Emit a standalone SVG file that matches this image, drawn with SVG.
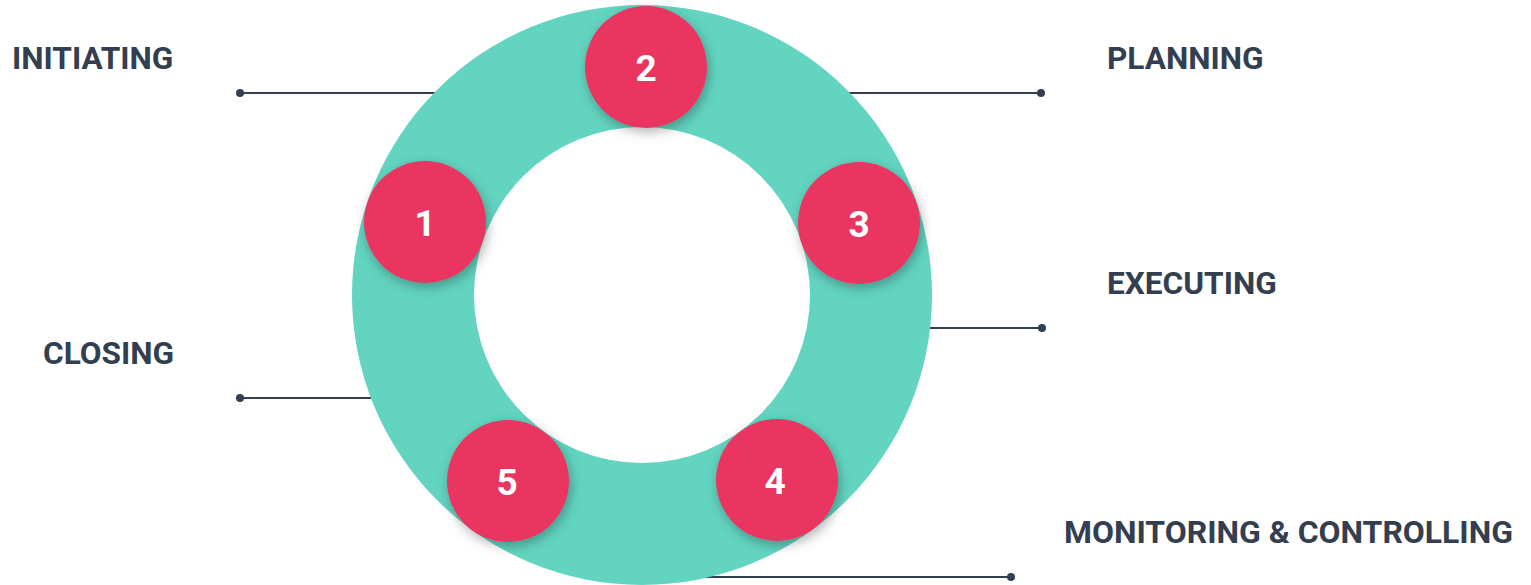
<svg xmlns="http://www.w3.org/2000/svg" width="1531" height="585" viewBox="0 0 1531 585">
<defs>
<style>
.lbl{font-family:Roboto,"Liberation Sans",sans-serif;font-weight:700;font-size:31.6px;fill:#333e50}
.num{font-family:Roboto,"Liberation Sans",sans-serif;font-weight:700;font-size:37px;fill:#ffffff;text-anchor:middle}
.ln{stroke:#333e50;stroke-width:2;fill:none}
.dot{fill:#333e50}
.badge{fill:#e93461;filter:url(#sh)}
</style>
<filter id="sh" x="-40%" y="-40%" width="180%" height="180%">
<feDropShadow dx="2" dy="4" stdDeviation="6" flood-color="#000" flood-opacity="0.3"/>
</filter>
</defs>
<rect width="1531" height="585" fill="#fff"/>
<g id="connectors">
<line class="ln" x1="240" y1="93" x2="500" y2="93"/><circle class="dot" cx="240" cy="93" r="4"/>
<line class="ln" x1="780" y1="93" x2="1041" y2="93"/><circle class="dot" cx="1041" cy="93" r="4"/>
<line class="ln" x1="850" y1="328" x2="1042" y2="328"/><circle class="dot" cx="1042" cy="328" r="4"/>
<line class="ln" x1="240" y1="398" x2="420" y2="398"/><circle class="dot" cx="240" cy="398" r="4"/>
<line class="ln" x1="642" y1="577" x2="1011" y2="577"/><circle class="dot" cx="1011" cy="577" r="4"/>
</g>
<g id="ring">
<path d="M352 295a290 290 0 1 0 580 0a290 290 0 1 0 -580 0ZM474 295a168 168 0 1 1 336 0a168 168 0 1 1 -336 0Z" fill="#62d4c0" fill-rule="evenodd"/>
</g>
<g id="labels">
<text class="lbl" x="12" y="69">INITIATING</text>
<text class="lbl" x="1107" y="69">PLANNING</text>
<text class="lbl" x="1107" y="294">EXECUTING</text>
<text class="lbl" x="43" y="364">CLOSING</text>
<text class="lbl" x="1064" y="543" textLength="449" lengthAdjust="spacingAndGlyphs">MONITORING &amp; CONTROLLING</text>
</g>
<g id="node1"><circle class="badge" cx="425" cy="222" r="61"/><text class="num" x="425" y="236">1</text></g>
<g id="node2"><circle class="badge" cx="646" cy="67" r="61"/><text class="num" x="646" y="81">2</text></g>
<g id="node3"><circle class="badge" cx="859" cy="223" r="61"/><text class="num" x="859" y="237">3</text></g>
<g id="node4"><circle class="badge" cx="777" cy="480" r="61"/><text class="num" x="775" y="494">4</text></g>
<g id="node5"><circle class="badge" cx="508" cy="481" r="61"/><text class="num" x="507" y="495">5</text></g>
</svg>
